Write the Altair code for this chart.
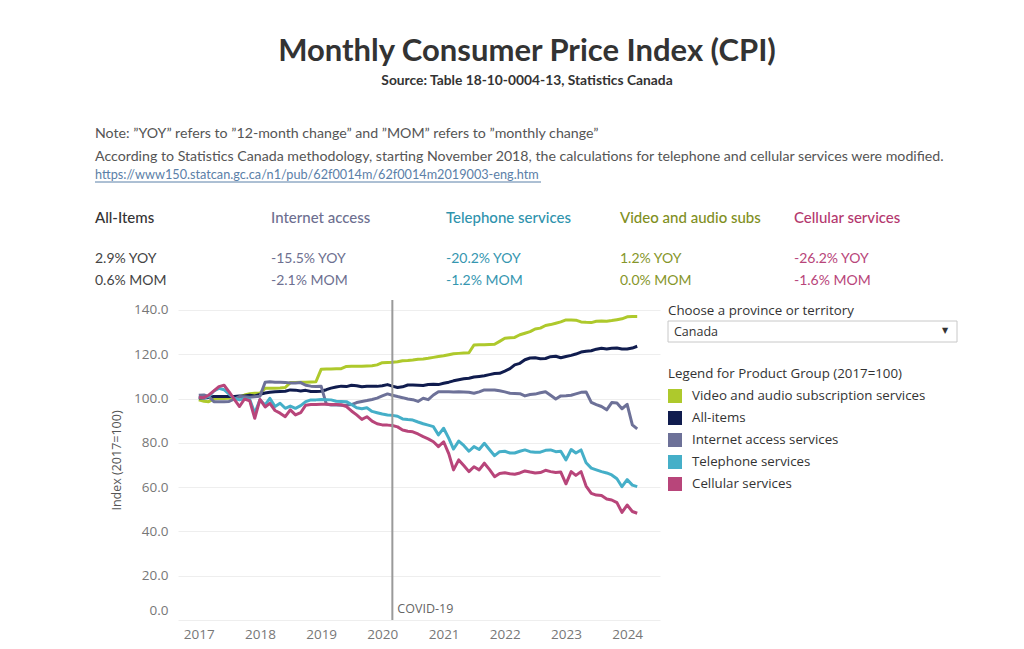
import altair as alt
import pandas as pd

# ---------------- data ----------------
months = [f"{y}-{m:02d}-01" for y in range(2017, 2025) for m in range(1, 13)][:87]

series_order = ["Video and audio subscription services", "All-items",
                "Internet access services", "Telephone services", "Cellular services"]
series_colors = ["#aec92c", "#101c4e", "#6d7198", "#45afc8", "#b8457a"]

video = [99.4, 98.8, 98.6, 99.8, 100.1, 100.0, 100.1, 100.2, 100.6, 101.6, 102.2, 102.4,
         102.5, 104.6, 104.7, 104.7, 104.8, 105.0, 107.2, 107.3, 107.4, 107.4, 107.5, 107.6,
         113.2, 113.3, 113.3, 113.4, 113.5, 114.5, 114.6, 114.6, 114.6, 114.7, 114.8, 115.2,
         116.2, 116.3, 116.4, 116.6, 117.1, 117.2, 117.4, 117.7, 117.9, 118.2, 118.6, 119.0,
         119.3, 119.8, 120.2, 120.4, 120.6, 120.7, 124.2, 124.3, 124.3, 124.4, 124.5, 125.8,
         127.2, 127.4, 127.6, 128.8, 129.5, 130.2, 131.4, 131.8, 133.0, 133.4, 134.0, 134.6,
         135.5, 135.5, 135.4, 134.6, 134.4, 134.3, 134.9, 135.0, 134.9, 135.2, 135.6, 136.0,
         136.9, 137.0, 137.0]

all_items = [100.2, 100.3, 100.5, 100.9, 100.9, 100.9, 100.9, 100.9, 101.2, 101.2, 101.5, 101.2,
             101.9, 102.5, 102.8, 103.1, 103.2, 103.3, 103.9, 103.8, 103.4, 103.7, 103.2, 103.2,
             103.3, 104.0, 104.7, 105.2, 105.6, 105.4, 106.0, 105.8, 105.3, 105.6, 105.5, 105.5,
             105.8, 106.3, 105.6, 105.0, 105.3, 106.1, 106.1, 106.0, 105.9, 106.3, 106.5, 106.3,
             106.9, 107.4, 108.0, 108.5, 108.9, 109.2, 109.7, 110.0, 110.3, 110.8, 111.3, 111.4,
             112.4, 113.5, 115.2, 115.9, 117.5, 118.3, 118.4, 118.0, 118.1, 118.9, 119.1, 118.4,
             119.0, 119.5, 120.1, 121.0, 121.4, 121.6, 122.3, 122.7, 122.4, 122.7, 122.8, 122.4,
             122.4, 122.8, 123.6]

internet = [101.5, 101.6, 101.0, 98.6, 98.5, 98.6, 98.7, 99.8, 100.9, 100.8, 100.6, 100.8,
            101.0, 107.4, 107.6, 107.4, 107.4, 107.3, 107.0, 107.0, 107.2, 106.0, 105.6, 105.4,
            105.6, 97.5, 97.1, 97.1, 97.0, 97.1, 97.3, 98.2, 98.7, 99.1, 99.6, 100.2,
            101.2, 102.1, 101.5, 100.9, 100.4, 99.8, 99.5, 98.7, 100.1, 99.5, 101.6, 103.1,
            103.1, 103.1, 103.0, 103.1, 103.0, 102.8, 102.4, 103.0, 103.9, 103.9, 103.9, 103.5,
            103.0, 102.4, 102.3, 102.2, 101.2, 101.8, 102.0, 102.6, 103.1, 101.5, 99.8, 101.2,
            101.3, 101.5, 102.1, 102.8, 103.0, 98.3, 97.3, 96.4, 94.9, 98.2, 98.0, 95.4,
            97.4, 88.1, 86.3]

telephone = [100.5, 100.2, 101.0, 103.4, 104.6, 104.0, 102.0, 100.0, 99.4, 99.9, 99.6, 93.4,
             99.4, 97.1, 100.1, 96.4, 97.9, 95.6, 96.6, 95.6, 96.8, 98.6, 99.4, 99.4,
             99.6, 99.5, 99.4, 98.8, 98.7, 98.6, 97.3, 95.8, 95.4, 95.8, 94.2, 93.6,
             93.0, 92.6, 92.4, 92.0, 90.8, 90.5, 90.3, 89.4, 88.6, 88.0, 87.3, 83.6,
             86.6, 82.0, 77.2, 80.8, 78.8, 76.2, 78.3, 77.0, 79.8, 77.0, 74.2, 76.0,
             76.2, 75.4, 75.4, 76.2, 76.8, 76.0, 75.8, 75.8, 76.6, 76.8, 76.0, 76.2,
             72.3, 77.0, 75.4, 76.8, 71.0, 68.6, 67.8, 67.0, 66.4, 65.5, 63.8, 60.2,
             63.4, 60.9, 60.2]

cellular = [100.6, 100.4, 101.5, 103.5, 105.4, 106.0, 103.0, 99.6, 96.4, 99.8, 99.0, 91.1,
            99.6, 96.2, 97.8, 94.6, 93.4, 91.8, 94.9, 92.6, 93.6, 97.0, 97.3, 97.3,
            97.4, 97.4, 97.3, 97.3, 97.2, 96.4, 94.4, 92.6, 90.6, 91.8, 89.8, 88.6,
            88.1, 88.0, 87.8, 87.2, 85.8, 85.2, 85.0, 84.0, 82.8, 81.8, 80.5, 78.3,
            80.5, 75.0, 67.8, 72.3, 69.8, 67.0, 69.2, 67.8, 70.8, 68.0, 64.7, 66.2,
            66.5, 66.0, 65.8, 66.4, 67.3, 66.8, 66.4, 66.6, 67.6, 67.0, 66.6, 66.8,
            61.5, 67.0, 65.3, 67.0, 60.5, 57.2, 56.4, 56.2, 54.6, 54.2, 53.0, 48.6,
            51.9, 49.0, 48.2]

series_values = [video, all_items, internet, telephone, cellular]

kpi_names = ["All-Items", "Internet access", "Telephone services", "Video and audio subs", "Cellular services"]
kpi_yoy = ["2.9% YOY", "-15.5% YOY", "-20.2% YOY", "1.2% YOY", "-26.2% YOY"]
kpi_mom = ["0.6% MOM", "-2.1% MOM", "-1.2% MOM", "0.0% MOM", "-1.6% MOM"]
kpi_colors = ["#333333", "#6d6f90", "#2f93ad", "#7f8f1e", "#b4386e"]
kpi_value_colors = ["#444444", "#6d6f90", "#3596b0", "#86962a", "#b8457a"]

covid_date = ["2020-03-01"]
covid_label = ["COVID-19"]
years = list(range(2017, 2025))

title_text = "Monthly Consumer Price Index (CPI)"
subtitle_text = "Source: Table 18-10-0004-13, Statistics Canada"
note1 = "Note: \u201dYOY\u201d refers to \u201d12-month change\u201d and \u201dMOM\u201d refers to \u201dmonthly change\u201d"
note2 = ("According to Statistics Canada methodology, starting November 2018, the calculations "
         "for telephone and cellular services were modified.")
link_text = "https://www150.statcan.gc.ca/n1/pub/62f0014m/62f0014m2019003-eng.htm"
province_label = "Choose a province or territory"
province_value = "Canada"
legend_title = "Legend for Product Group (2017=100)"

rows = []
for name, vals in zip(series_order, series_values):
    for d, v in zip(months, vals):
        rows.append({"date": d, "series": name, "value": v})
df = pd.DataFrame(rows)

# ---------------- chart ----------------
FONT = "Lato"
AXFONT = "Open Sans"
W, H = 482, 320

color_scale = alt.Scale(domain=series_order, range=series_colors)
x_enc = alt.X("date:T",
              scale=alt.Scale(domain=[alt.DateTime(year=2016, month=8, date=30),
                                      alt.DateTime(year=2024, month=7, date=15)]),
              axis=alt.Axis(values=[alt.DateTime(year=y, month=1, date=1) for y in years],
                            format="%Y", title=None, grid=False, domain=False, ticks=False,
                            labelPadding=7, labelFontSize=13.5, labelColor="#777777",
                            labelFont=AXFONT))
y_enc = alt.Y("value:Q",
              scale=alt.Scale(domain=[0, 144.5], nice=False, zero=True),
              axis=alt.Axis(values=[0, 20, 40, 60, 80, 100, 120, 140], format=".1f",
                            domain=False, ticks=False, labelPadding=10, labelFontSize=13.5,
                            labelColor="#777777", labelFont=AXFONT,
                            labelOffset=alt.ExprRef("datum.value === 0 ? -10 : 0"),
                            gridColor="#eeeeee", gridWidth=1,
                            title="Index (2017=100)", titleFontSize=12.5, titleFontWeight="normal",
                            titleColor="#555555", titleFont=AXFONT,
                            titleX=-62, titleY=160, titleBaseline="middle", titleAlign="center"))

base = alt.Chart(df)

covid_df = pd.DataFrame({"date": covid_date, "label": covid_label})
covid_rule = alt.Chart(covid_df).mark_rule(color="#9a9a9a", strokeWidth=2).encode(x="date:T")
covid_text = alt.Chart(covid_df).mark_text(align="left", baseline="middle", dx=5, fontSize=12.5,
                                           color="#666666", font=AXFONT).encode(
    x="date:T", y=alt.value(309), text="label:N")

lines = base.mark_line(strokeWidth=3, strokeJoin="round").encode(
    x=x_enc, y=y_enc,
    color=alt.Color("series:N", scale=color_scale, legend=None),
)


def txt(s, x, y, size=13.5, color="#555555", weight="normal", align="left", font=FONT):
    return alt.Chart(alt.Data(values=[{"t": s}])).mark_text(
        align=align, baseline="middle", fontSize=size, color=color, fontWeight=weight, font=font
    ).encode(x=alt.value(x), y=alt.value(y), text="t:N")


layers = [lines, covid_rule, covid_text]
layers.append(txt(title_text, 349, -248, size=31, color="#333333", weight="bold", align="center"))
layers.append(txt(subtitle_text, 349, -219, size=13.8, color="#333333", weight="bold", align="center"))
layers.append(txt(note1, -83, -166, size=14.2, color="#555555"))
layers.append(txt(note2, -83, -143, size=14.2, color="#555555"))
layers.append(txt(link_text, -83, -125, size=12.7, color="#5b80a8"))
layers.append(alt.Chart(alt.Data(values=[{"a": 1}])).mark_rule(color="#5b80a8", strokeWidth=1).encode(
    x=alt.value(-83), x2=alt.value(363), y=alt.value(-118)))

kpi_x = [-83, 93, 268, 442, 616]
for i in range(5):
    layers.append(txt(kpi_names[i], kpi_x[i], -82, size=15, color=kpi_colors[i], weight=500))
    layers.append(txt(kpi_yoy[i], kpi_x[i], -41, size=14, color=kpi_value_colors[i]))
    layers.append(txt(kpi_mom[i], kpi_x[i], -19, size=14, color=kpi_value_colors[i]))

# province selector
layers.append(txt(province_label, 490, 11, size=13.3, color="#333333", font=AXFONT))
layers.append(alt.Chart(alt.Data(values=[{"a": 1}])).mark_rect(fill="white", stroke="#c8c8c8", strokeWidth=1).encode(
    x=alt.value(490), x2=alt.value(779), y=alt.value(21), y2=alt.value(42)))
layers.append(txt(province_value, 496, 32, size=12.5, color="#333333", font=AXFONT))
layers.append(txt("\u25BC", 767, 31, size=8, color="#333333", align="center", font="DejaVu Sans"))

# legend
layers.append(txt(legend_title, 490, 74, size=13.3, color="#333333", font=AXFONT))
for i, (name, col) in enumerate(zip(series_order, series_colors)):
    yy = 96 + 22 * i
    layers.append(alt.Chart(alt.Data(values=[{"s": name}])).mark_square(
        filled=True, size=196, opacity=1, color=col).encode(x=alt.value(497), y=alt.value(yy)))
    layers.append(txt(name, 514, yy, size=13.3, color="#333333", font=AXFONT))

chart = alt.layer(*layers).properties(
    width=W, height=H,
    autosize=alt.AutoSizeParams(type="none"),
    padding={"left": 170, "top": 292, "right": 356, "bottom": 21},
    background="white",
).configure_view(stroke=None)

chart.save("out.html", embed_options={"renderer": "svg", "actions": False})
